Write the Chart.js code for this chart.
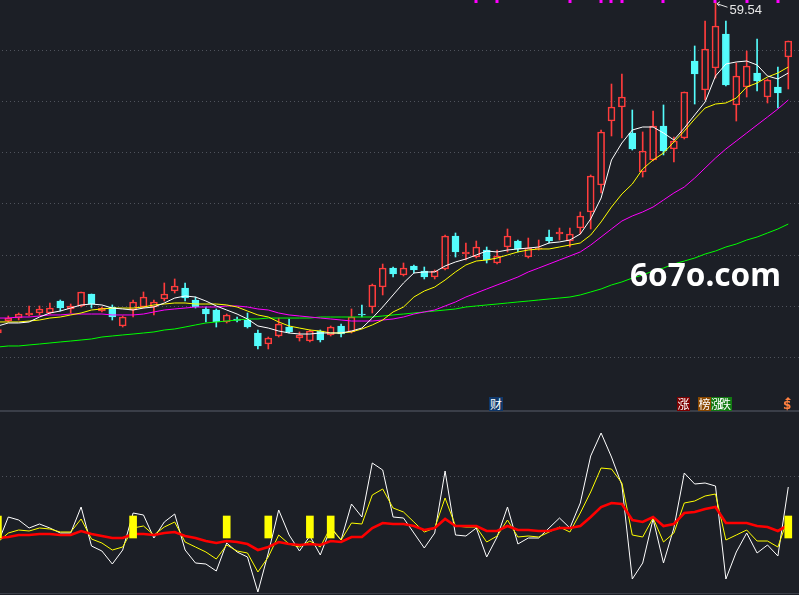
<!DOCTYPE html>
<html><head><meta charset="utf-8">
<script src="https://cdn.jsdelivr.net/npm/chart.js@4.4.1/dist/chart.umd.min.js"></script>
<style>
html,body{margin:0;padding:0;background:#1c1f26;overflow:hidden;width:799px;height:595px;}
#wrap{position:relative;width:799px;height:595px;overflow:hidden;}
canvas{position:absolute;left:0;}
#c1{top:0;}
#c2{top:412px;}
.sep{position:absolute;left:0;width:799px;height:2px;background:#3a3e48;}
.lab{position:absolute;top:397px;height:14px;line-height:14px;font-size:12px;font-family:"Noto Sans CJK SC";color:#fff;text-align:center;overflow:hidden;white-space:nowrap;}
#hiTxt{position:absolute;font:13px "Liberation Sans";line-height:13px;color:#e6e6e6;white-space:nowrap;}
#wm{position:absolute;left:630px;top:258px;font:bold 31.5px "Noto Sans";line-height:32px;color:#ffffff;white-space:nowrap;}
#dollar{position:absolute;left:783px;top:400px;font:bold 12px "DejaVu Sans";line-height:11px;color:#ff8040;}
#dtri{position:absolute;left:785px;top:397px;width:0;height:0;border-left:3px solid transparent;border-right:3px solid transparent;border-bottom:3px solid #ff8040;}
</style>
</head><body>
<div id="wrap">
<canvas id="c1" width="799" height="411"></canvas>
<canvas id="c2" width="799" height="183"></canvas>
<div class="sep" style="top:410px"></div>
<div class="sep" style="top:593px;height:1px"></div>
<div id="wm">6o7o.com</div>
<div class="lab" style="left:489px;width:14px;background:#10386a;">财</div>
<div class="lab" style="left:677px;width:13px;background:#7d0000;">涨</div>
<div class="lab" style="left:698px;width:13px;background:#8a4800;">榜</div>
<div class="lab" style="left:711px;width:21px;background:#127a12;letter-spacing:-4px;text-align:left;">涨跌</div>
<div id="dtri"></div>
<div id="dollar">$</div>
<div id="hiTxt"></div>
</div>
<script>
// ---- data ----
const open = [20.84,22.24,22.59,22.95,23.18,23.18,24.58,23.65,24.00,25.40,
 23.41,23.88,21.66,23.53,23.88,23.88,24.82,25.75,26.10,24.70,
 23.65,23.53,22.13,22.48,22.36,20.84,19.55,20.49,21.54,20.25,
 19.90,21.07,20.61,21.66,20.96,23.06,23.88,26.22,28.44,27.63,
 28.68,28.09,27.39,28.33,32.19,30.08,29.73,30.55,29.03,30.90,
 31.60,29.73,30.67,32.07,32.42,31.60,33.12,35.00,38.16,45.64,
 47.28,44.24,39.68,41.08,45.06,42.37,43.65,52.66,49.27,51.84,
 55.82,47.52,49.62,51.26,48.45,49.62,53.13];
const high = [21.42,22.83,23.18,24.00,24.00,24.35,24.70,24.23,25.64,25.40,
 23.88,24.12,22.83,24.70,25.64,24.70,26.69,27.16,26.69,25.05,
 23.88,23.65,23.06,22.71,23.18,21.19,20.37,22.59,22.48,20.96,
 21.19,21.19,21.66,21.89,23.65,24.12,26.57,28.91,28.56,29.03,
 28.80,28.56,28.21,32.30,32.54,31.37,31.60,30.90,30.55,33.01,
 31.72,31.95,31.72,32.89,33.12,33.12,35.00,39.33,44.59,49.97,
 51.14,46.93,44.36,46.81,47.52,43.77,49.04,54.42,57.34,59.54,
 57.34,52.43,53.83,55.24,50.56,51.96,55.00];
const low = [20.72,22.13,22.36,22.83,22.95,23.06,23.41,23.18,23.88,23.76,
 23.30,22.36,21.54,22.71,23.76,22.95,24.58,25.52,24.58,23.76,
 22.13,21.54,22.01,22.13,21.42,18.97,18.97,20.37,20.84,19.90,
 19.79,19.79,20.49,20.37,20.84,22.71,23.18,25.29,27.39,27.51,
 27.86,27.16,27.16,28.21,29.73,29.38,29.61,29.03,28.91,30.32,
 30.32,29.61,30.55,31.37,31.72,30.90,32.42,33.01,37.22,43.89,
 43.65,42.25,39.09,40.96,41.67,40.85,43.54,47.63,48.10,50.67,
 49.74,45.64,48.45,49.15,47.75,47.16,49.39];
const close = [21.25,22.59,23.06,23.18,23.65,23.76,23.76,24.00,25.64,24.23,
 23.76,22.71,22.71,24.47,25.05,24.47,25.40,26.34,24.93,23.88,
 23.06,22.13,22.95,22.30,21.54,19.32,20.25,21.89,20.96,20.61,
 21.07,20.02,21.54,20.72,22.71,22.95,26.46,28.44,27.74,28.44,
 28.21,27.39,28.09,32.19,30.32,30.32,30.90,29.38,29.85,32.19,
 30.67,30.78,30.78,31.60,32.66,32.42,34.53,39.21,44.36,47.28,
 48.45,42.37,42.13,45.06,42.13,43.30,49.04,51.14,54.07,56.76,
 49.86,50.91,52.08,50.32,50.44,48.92,55.00];
const ma5 = [21.66,22.01,22.01,22.13,22.71,23.18,23.41,23.76,24.12,24.23,
 24.12,23.76,23.65,23.53,23.76,23.88,24.35,24.93,25.17,25.05,
 24.58,24.00,23.53,23.06,22.48,21.66,21.42,21.07,20.84,20.72,
 20.72,20.84,20.84,20.84,21.07,21.42,22.59,23.88,25.29,26.69,
 27.86,27.98,27.98,28.68,29.15,29.50,29.97,30.43,30.32,30.55,
 30.67,30.78,30.90,31.37,31.49,31.72,32.42,34.18,36.63,41.08,
 43.07,44.59,44.94,44.94,44.24,43.42,44.82,46.35,47.87,50.91,
 52.31,52.55,52.66,52.20,50.91,50.56,51.26];
const ma10 = [22.13,22.13,22.13,22.24,22.36,22.59,22.71,22.95,23.18,23.53,
 23.65,23.76,23.76,23.76,23.88,24.12,24.23,24.35,24.35,24.23,
 24.23,24.23,24.12,23.88,23.41,22.95,22.71,22.13,21.66,21.42,
 21.19,21.07,20.84,20.84,20.96,21.31,21.78,22.36,23.30,23.88,
 25.05,25.75,26.22,27.04,27.98,28.80,29.26,29.38,29.61,29.97,
 30.32,30.55,30.67,30.67,30.90,31.13,31.37,32.30,33.83,35.58,
 37.10,38.27,40.03,41.08,41.90,43.19,44.47,45.88,47.16,47.63,
 47.75,48.33,49.62,50.09,50.79,51.26,51.96];
const ma20 = [22.59,22.59,22.71,22.71,22.83,22.95,22.95,23.06,23.06,23.06,
 23.06,22.95,22.95,22.95,23.06,23.30,23.53,23.65,23.76,23.88,
 23.88,23.88,24.00,24.00,23.88,23.65,23.53,23.18,22.95,22.83,
 22.71,22.59,22.48,22.36,22.24,22.24,22.24,22.36,22.48,22.71,
 23.06,23.30,23.53,24.00,24.47,25.05,25.52,25.99,26.46,26.92,
 27.39,27.98,28.44,28.91,29.38,29.85,30.32,31.13,32.07,33.01,
 33.94,34.53,35.00,35.58,36.40,37.22,37.92,38.97,40.14,41.31,
 42.37,43.30,44.24,45.18,46.11,47.05,48.10];
const ma60 = [19.20,19.32,19.32,19.44,19.55,19.67,19.79,19.90,20.02,20.14,
 20.37,20.49,20.61,20.72,20.84,20.96,21.19,21.31,21.54,21.78,
 22.01,22.13,22.24,22.36,22.48,22.48,22.59,22.59,22.59,22.59,
 22.59,22.71,22.71,22.71,22.71,22.71,22.71,22.83,22.95,23.06,
 23.18,23.30,23.41,23.53,23.65,23.88,24.00,24.12,24.23,24.35,
 24.47,24.58,24.70,24.82,24.93,25.05,25.29,25.64,25.99,26.46,
 26.81,27.27,27.63,28.09,28.44,28.91,29.26,29.61,30.08,30.43,
 30.90,31.25,31.72,32.07,32.54,33.01,33.59];
const oscWhite = [46.5,59.5,58,54,56,54,51.5,51.5,64.5,45,
 42.5,36,43,61.5,60.5,49,57,61,43,36.5,
 36,32.5,46.5,42,39.5,22,41.5,63,50.5,42.5,
 50,40.5,54,48,66,59.5,86.5,83,59.5,59,
 51.5,44,51.5,82.5,50.5,50,54,39.5,49.5,64.5,
 46,49,49,54,59,54,66.5,90,101.5,89.5,
 75.5,28.5,36.5,58.5,36.5,54,81.5,76,76.5,75,
 28.5,42,51.5,41.5,45.5,40,74.5];
const oscYellow = [47,51.5,53,52.5,54,53.5,52,52,58.5,48.5,
 46.5,43,44.5,54,55,50.5,54.5,57,47,44.5,
 42,38.5,45.5,42.5,41.5,32,39.5,50.5,46,44.5,
 47.5,44.5,54.5,48,56.5,56,70.5,73.5,64,62,
 57,52,54,69,55,54.5,54.5,47,50,58,
 49.5,50,49.5,52,54.5,52,61.5,72,84,83.5,
 76.5,50.5,49.5,59,47,51.5,66.5,67.5,70,71,
 48,50.5,53,47.5,47.5,44.5,59.5];
const oscRed = [49,49.5,50.5,50.5,51,51,50.5,50.5,52.5,51,
 50,49,49,51,51,50.5,51.5,52,50,49,
 47.5,46.5,47.5,47,46,43,44.5,47,46,45.5,
 46,45.5,47.5,47,49.5,49.5,54,56.5,56,56,
 55,53,54,58.5,55,55,55,52.5,52.5,55,
 53,53,52.5,52.5,54,54,55,59.5,64.5,66.5,
 66,58,57,59.5,55,56,61.5,62,63.5,64.5,
 56.5,56.5,56.5,55,54.5,52.5,55.5];
const signalIdx = [0,13,22,26,30,32,76];
const signalRange = [49,60];
const markerIdx = [46,48,55,58,59,60,64,69,72,75];
const priceGrid = [18,24,30,36,42,48,54];
const oscGrid = [80];

// ---- layout constants ----
const X_MIN = 0.202, X_MAX = 77.03;
const RED = '#ff3c3c', CYAN = '#54fcfc';

const idx = open.map((_, i) => i);
const up = idx.map(i => close[i] >= open[i]);
const cColor = idx.map(i => up[i] ? RED : CYAN);
const pts = arr => arr.map((v, i) => ({x: i, y: v}));

const gridPlugin = {
  id: 'dotgrid',
  beforeDatasetsDraw(chart, args, opts) {
    const {ctx, chartArea: a, scales: {y}} = chart;
    ctx.save();
    ctx.strokeStyle = '#4f535c';
    ctx.lineWidth = 1;
    ctx.setLineDash([1, 3]);
    (opts.values || []).forEach(v => {
      const py = Math.round(y.getPixelForValue(v)) + 0.5;
      ctx.beginPath(); ctx.moveTo(a.left + 2, py); ctx.lineTo(a.right, py); ctx.stroke();
    });
    ctx.restore();
  }
};

const markPlugin = {
  id: 'marks',
  afterDatasetsDraw(chart) {
    const {ctx, scales: {x, y}} = chart;
    ctx.save();
    ctx.fillStyle = '#ff00ff';
    markerIdx.forEach(i => {
      const px = Math.round(x.getPixelForValue(i)) - 1.5;
      ctx.fillRect(px, 0, 3, 3);
    });
    // highest point annotation
    let hi = -Infinity, hiI = 0;
    high.forEach((v, i) => { if (v > hi) { hi = v; hiI = i; } });
    const px = x.getPixelForValue(hiI), py = y.getPixelForValue(hi);
    ctx.strokeStyle = '#e6e6e6';
    ctx.lineWidth = 1;
    ctx.beginPath();
    ctx.moveTo(px + 1.5, py + 1.5); ctx.lineTo(px + 12, py + 5);
    ctx.moveTo(px + 1.5, py + 1.5); ctx.lineTo(px + 4.5, py - 0.5);
    ctx.moveTo(px + 1.5, py + 1.5); ctx.lineTo(px + 4, py + 4);
    ctx.stroke();
    ctx.restore();
    const t = document.getElementById('hiTxt');
    t.textContent = hi.toFixed(2);
    t.style.left = (px + 14) + 'px';
    t.style.top = (py + 1) + 'px';
  }
};

const hiddenX = {type: 'linear', min: X_MIN, max: X_MAX, display: false, offset: false};
const common = {
  responsive: false, animation: false, events: [],
  layout: {padding: 0},
  plugins: {legend: {display: false}, tooltip: {enabled: false}}
};

const line = (data, color, w, order) => ({
  type: 'line', data: pts(data), borderColor: color, borderWidth: w,
  pointRadius: 0, tension: 0, fill: false, order
});

new Chart(document.getElementById('c1'), {
  type: 'bar',
  data: {
    datasets: [
      line(ma5, '#ffffff', 1, 0),
      line(ma10, '#ffff00', 1, 0),
      line(ma20, '#ff00ff', 1, 0),
      line(ma60, '#00ff00', 1, 0),
      {type: 'bar', data: idx.map(i => ({x: i, y: [Math.max(open[i], close[i]), high[i]]})),
       backgroundColor: cColor, borderWidth: 0, barThickness: 1, grouped: false, order: 2},
      {type: 'bar', data: idx.map(i => ({x: i, y: [low[i], Math.min(open[i], close[i])]})),
       backgroundColor: cColor, borderWidth: 0, barThickness: 1, grouped: false, order: 2},
      {type: 'bar', data: idx.map(i => ({x: i, y: [open[i], close[i]]})),
       backgroundColor: idx.map(i => up[i] ? 'rgba(0,0,0,0)' : CYAN),
       borderColor: cColor, borderWidth: 1, borderSkipped: false, minBarLength: 1,
       barThickness: 7, grouped: false, order: 1}
    ]
  },
  options: Object.assign({}, common, {
    scales: {x: hiddenX, y: {type: 'linear', min: 11.713, max: 59.8, display: false}},
    plugins: Object.assign({}, common.plugins, {dotgrid: {values: priceGrid}})
  }),
  plugins: [gridPlugin, markPlugin]
});

new Chart(document.getElementById('c2'), {
  type: 'line',
  data: {
    datasets: [
      {type: 'bar', data: signalIdx.map(i => ({x: i, y: signalRange})),
       backgroundColor: '#ffff00', borderWidth: 0, barThickness: 7, grouped: false, order: 0},
      line(oscRed, '#ff0000', 2.6, 1),
      line(oscYellow, '#ffff00', 1, 2),
      line(oscWhite, '#ffffff', 1, 3)
    ]
  },
  options: Object.assign({}, common, {
    scales: {x: hiddenX, y: {type: 'linear', min: 20.5, max: 112, display: false}},
    plugins: Object.assign({}, common.plugins, {dotgrid: {values: oscGrid}})
  }),
  plugins: [gridPlugin]
});
</script>
</body></html>
